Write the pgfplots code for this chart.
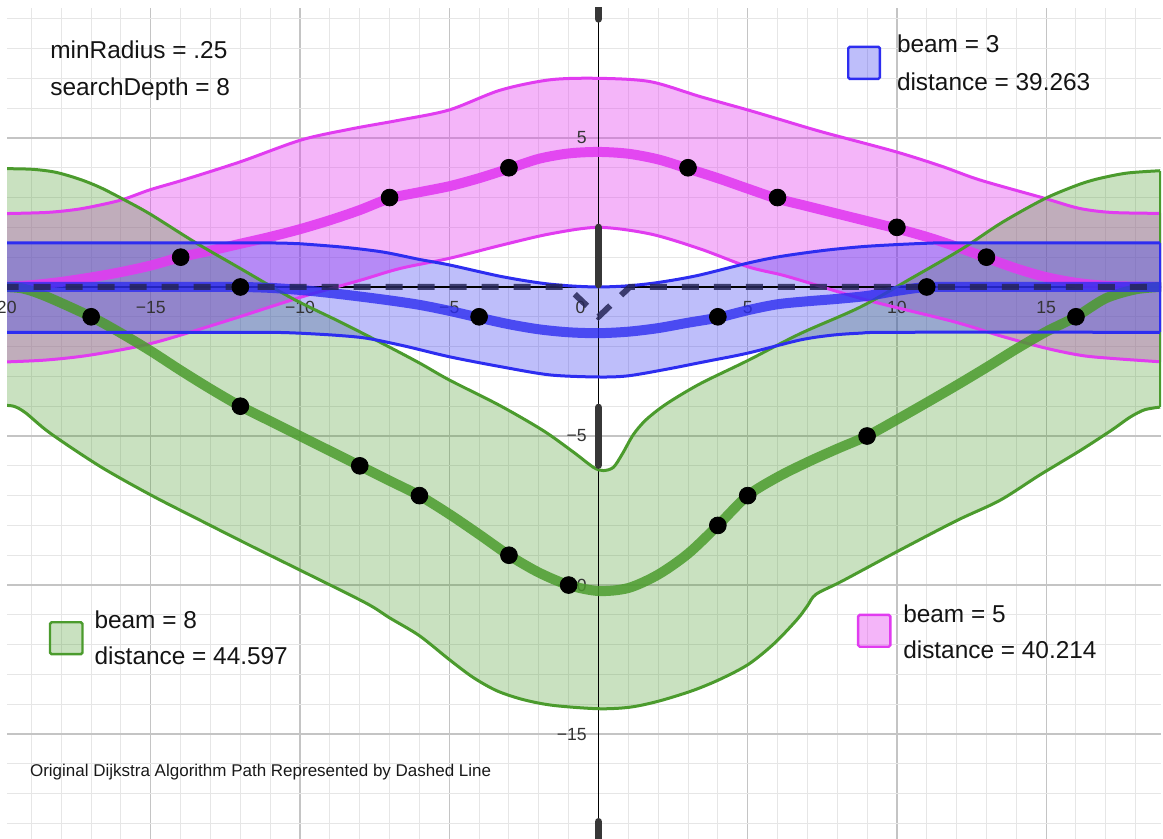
\documentclass[border=0pt]{standalone}
\usepackage{fontspec}
\setmainfont{Liberation Sans}
\usepackage{pgfplots}
\pgfplotsset{compat=1.18}
\usepackage{pgfplotstable}
\usepgfplotslibrary{fillbetween}

\definecolor{dblue}{RGB}{45,45,240}
\definecolor{dpink}{RGB}{225,60,240}
\definecolor{dgreen}{RGB}{75,155,45}
\definecolor{gridmajor}{RGB}{196,196,196}
\definecolor{gridminor}{RGB}{230,230,230}
\definecolor{dashc}{RGB}{38,38,88}
\definecolor{barc}{RGB}{55,55,55}

% ---------- pink (beam = 5) ----------
\pgfplotstableread{
x y
-20 2.46
-18.5 2.5
-17.5 2.6
-16.7 2.75
-15.92 2.94
-15.03 3.26
-13.91 3.59
-12 4.2
-9.97 4.93
-8.3 5.3
-6.65 5.6
-5 5.94
-3.3 6.6
-1.63 6.95
0 7.0
1.73 6.89
3.4 6.39
5 5.94
6.08 5.62
7.5 5.2
9.95 4.54
11.5 4.05
12.78 3.59
14.93 2.98
16.1 2.64
17.2 2.5
18.82 2.47
}\pinkU
\pgfplotstableread{
x y
-20 -2.52
-18.5 -2.45
-17 -2.28
-14.97 -1.89
-12.5 -1.15
-10 -0.35
-8 0.22
-6.65 0.62
-5 0.96
-3.3 1.39
-1.63 1.78
0 2.0
1.73 1.78
3.4 1.28
5 0.68
6.08 0.42
6.75 0.23
8.99 -0.44
11.89 -1.16
13.5 -1.65
15.02 -2.06
16.2 -2.3
17.25 -2.4
18.82 -2.51
}\pinkL
\pgfplotstableread{
x y
-20 0
-19 0.06
-18 0.17
-17 0.32
-16 0.5
-15 0.72
-14 1.0
-13 1.22
-12 1.45
-11 1.68
-10 1.94
-9 2.24
-8 2.58
-7 2.97
-6 3.18
-5 3.38
-4 3.65
-3 3.97
-2 4.3
-1 4.48
0 4.53
1 4.47
2 4.28
3 3.97
4 3.65
5 3.3
6 2.96
7 2.71
8 2.46
9 2.21
10 1.96
11 1.68
12 1.35
13 0.98
14 0.62
15 0.33
16 0.14
17 0.04
18 0.01
18.82 0
}\pinkC

% ---------- green (beam = 8) ----------
\pgfplotstableread{
x y
-20 3.97
-19 3.95
-18.2 3.85
-17.4 3.62
-16.7 3.34
-15.92 2.94
-15.03 2.45
-13.52 1.5
-12 0.62
-10.23 -0.4
-8.6 -1.2
-7.21 -1.91
-6 -2.55
-5 -3.12
-3.3 -3.98
-1.85 -4.82
-0.84 -5.54
-0.17 -6.05
0.16 -6.16
0.5 -6.05
0.8 -5.6
1.17 -4.95
1.6 -4.45
2.28 -3.92
3.4 -3.25
5 -2.47
6.75 -1.57
8.76 -0.68
10.5 0.3
12.17 1.27
13.5 2.15
14.93 2.95
16 3.4
16.7 3.62
17.7 3.82
18.82 3.9
}\greenU
\pgfplotstableread{
x y
-20 -3.97
-19.6 -4.0
-19.2 -4.22
-18.38 -4.9
-16.7 -6.02
-15 -6.98
-13.36 -7.82
-11.7 -8.66
-10 -9.5
-7.8 -10.6
-7 -11.1
-6 -11.7
-5 -12.5
-4.2 -13.1
-3.4 -13.55
-2.5 -13.85
-1.5 -14.04
0 -14.15
1.04 -14.1
2 -13.9
3.16 -13.54
4.1 -13.15
5.04 -12.65
5.9 -11.95
6.66 -11.15
7.0 -10.7
7.29 -10.31
8.16 -9.87
10.04 -8.86
12 -7.84
13.45 -7.16
14.8 -6.3
16.14 -5.49
17.2 -4.8
17.81 -4.37
18.3 -4.12
18.82 -4.03
}\greenL
\pgfplotstableread{
x y
-20 0
-19.3 -0.05
-18.5 -0.32
-17 -1
-16 -1.55
-15 -2.15
-14 -2.8
-13 -3.42
-12 -4
-11 -4.5
-10 -5
-9 -5.5
-8 -6
-7 -6.5
-6 -7
-5 -7.62
-4 -8.3
-3 -9
-2 -9.58
-1 -10
0 -10.2
1 -10.1
2 -9.65
3 -8.95
4 -8
5 -7
6 -6.38
7 -5.88
8 -5.43
9 -5
10 -4.45
11 -3.88
12 -3.3
13 -2.7
14 -2.08
15 -1.5
16 -1
17 -0.38
18 -0.08
18.82 0
}\greenC

% ---------- blue (beam = 3) ----------
\pgfplotstableread{
x y
-20 1.48
-12 1.48
-10.5 1.47
-10 1.45
-8.5 1.33
-7.21 1.17
-5.98 0.92
-5 0.74
-3.3 0.36
-2 0.14
-1 0.04
0 0
1 0.04
2 0.15
3.3 0.38
5 0.8
6.08 1.02
7.5 1.22
8.8 1.35
9.95 1.42
11.1 1.47
12 1.48
18.82 1.48
}\blueU
\pgfplotstableread{
x y
-20 -1.52
-12 -1.52
-10.5 -1.53
-10 -1.55
-8.8 -1.62
-7.77 -1.72
-6.5 -1.98
-5 -2.34
-3.3 -2.67
-1.63 -2.95
0 -3.02
1 -2.98
2.28 -2.76
3.6 -2.5
5 -2.22
6.75 -1.78
7.8 -1.62
8.76 -1.55
10 -1.52
18.82 -1.52
}\blueL
\pgfplotstableread{
x y
-20 0
-13 0
-12 0
-11 -0.03
-10 -0.1
-9 -0.2
-8 -0.32
-7 -0.45
-6 -0.6
-5 -0.8
-4 -1.03
-3 -1.25
-2 -1.42
-1 -1.52
0 -1.55
1 -1.5
2 -1.38
3 -1.2
4 -1.03
5 -0.78
6 -0.58
7 -0.48
8 -0.4
9 -0.3
10 -0.13
11 0
12 0
18.82 0
}\blueC

\tikzset{
  lg/.style={font=\fontsize{12.2}{14}\selectfont, anchor=base west, inner sep=0pt, text=black!92},
  tl/.style={font=\fontsize{8.8}{10}\selectfont, inner sep=0pt, text=black!80},
}

\begin{document}
\begin{tikzpicture}
\begin{axis}[
  at={(0,0)}, anchor=south west,
  scale only axis, width=577pt, height=415.5pt,
  xmin=-19.82, xmax=18.85, ymin=-18.52, ymax=9.36,
  xtick={-20,-15,...,20}, ytick={-20,-15,...,10},
  minor xtick={-20,-19,...,20}, minor ytick={-19,-18,...,10},
  grid=both,
  major grid style={line width=0.6pt, draw=gridmajor},
  minor grid style={line width=0.5pt, draw=gridminor},
  xticklabels={}, yticklabels={},
  major tick length=0pt, minor tick length=0pt,
  axis line style={draw=none},
]
% axes
\addplot[black, line width=0.7pt] coordinates {(-25,0) (25,0)};
\addplot[black, line width=0.7pt] coordinates {(0,-25) (0,15)};
% tick labels
\coordinate (m20) at (axis cs:-20,-0.88);
\node[tl, anchor=base] at (axis cs:-15,-0.88) {−15};
\node[tl, anchor=base] at (axis cs:-10,-0.88) {−10};
\node[tl, anchor=base] at (axis cs:-5,-0.88) {−5};
\node[tl, anchor=base] at (axis cs:-0.6,-0.88) {0};
\node[tl, anchor=base] at (axis cs:5,-0.88) {5};
\node[tl, anchor=base] at (axis cs:10,-0.88) {10};
\node[tl, anchor=base] at (axis cs:15,-0.88) {15};
\node[tl, anchor=east] at (axis cs:-0.38,5) {5};
\node[tl, anchor=east] at (axis cs:-0.38,-5) {−5};
\node[tl, anchor=east] at (axis cs:-0.38,-10) {−10};
\node[tl, anchor=east] at (axis cs:-0.38,-15) {−15};

% ---- pink band ----
\addplot[draw=none, name path=pu, smooth] table {\pinkU};
\addplot[draw=none, name path=pl, smooth] table {\pinkL};
\addplot[fill=dpink, fill opacity=0.38, draw=none] fill between[of=pu and pl];
\addplot[dpink, line width=1.5pt, smooth] table {\pinkU};
\addplot[dpink, line width=1.5pt, smooth] table {\pinkL};
\addplot[dpink, line width=1.5pt] coordinates {(18.82,2.47) (18.82,-2.51)};
\addplot[dpink, line width=5pt, opacity=0.9, smooth, line cap=round] table {\pinkC};

% ---- green band ----
\addplot[draw=none, name path=gu, smooth] table {\greenU};
\addplot[draw=none, name path=gl, smooth] table {\greenL};
\addplot[fill=dgreen, fill opacity=0.3, draw=none] fill between[of=gu and gl];
\addplot[dgreen, line width=1.5pt, smooth] table {\greenU};
\addplot[dgreen, line width=1.5pt, smooth] table {\greenL};
\addplot[dgreen, line width=1.5pt] coordinates {(18.82,3.9) (18.82,-4.03)};
\addplot[dgreen, line width=5pt, opacity=0.85, smooth, line cap=round] table {\greenC};

% ---- blue band ----
\addplot[draw=none, name path=bu, smooth] table {\blueU};
\addplot[draw=none, name path=bl, smooth] table {\blueL};
\addplot[fill=dblue, fill opacity=0.31, draw=none] fill between[of=bu and bl];
\addplot[dblue, line width=1.5pt, smooth] table {\blueU};
\addplot[dblue, line width=1.5pt, smooth] table {\blueL};
\addplot[dblue, line width=1.5pt] coordinates {(18.82,1.48) (18.82,-1.52)};
\addplot[dblue, line width=5pt, opacity=0.8, smooth, line cap=round] table {\blueC};

% ---- dijkstra dashed path ----
\addplot[dashc, line width=3pt, opacity=0.85, dash pattern=on 8.5pt off 7.5pt] coordinates {(-20,0) (-1.05,0) (0,-1) (1.05,0) (20,0)};

% ---- obstacles on the y-axis ----
\addplot[barc, line width=3.7pt, line cap=round] coordinates {(0,8.99) (0,12)};
\addplot[barc, line width=3.7pt, line cap=round] coordinates {(0,0.08) (0,2.0)};
\addplot[barc, line width=3.7pt, line cap=round] coordinates {(0,-4.04) (0,-5.98)};
\addplot[barc, line width=3.7pt, line cap=round] coordinates {(0,-17.94) (0,-21)};

% ---- search nodes ----
\addplot[only marks, mark=*, mark size=4.2pt, black] coordinates {
(-17,-1) (-12,-4) (-8,-6) (-6,-7) (-3,-9) (-1,-10) (4,-8) (5,-7) (9,-5) (16,-1)
(-12,0) (-4,-1) (4,-1) (11,0)
(-14,1) (-7,3) (-3,4) (3,4) (6,3) (10,2) (13,1)
};

% ---- texts and legend keys ----
\node[lg] at (axis cs:-18.38,7.67) {minRadius = .25};
\node[lg] at (axis cs:-18.38,6.44) {searchDepth = 8};

\draw[dblue, line width=1.2pt, fill=dblue, fill opacity=0.31, rounded corners=0.8pt] (axis cs:8.37,6.98) rectangle (axis cs:9.43,8.06);
\node[lg] at (axis cs:9.99,7.86) {beam = 3};
\node[lg] at (axis cs:9.99,6.59) {distance = 39.263};

\draw[dgreen, line width=1.2pt, fill=dgreen, fill opacity=0.3, rounded corners=0.8pt] (axis cs:-18.38,-12.32) rectangle (axis cs:-17.29,-11.25);
\node[lg] at (axis cs:-16.9,-11.45) {beam = 8};
\node[lg] at (axis cs:-16.9,-12.68) {distance = 44.597};

\draw[dpink, line width=1.2pt, fill=dpink, fill opacity=0.38, rounded corners=0.8pt] (axis cs:8.7,-12.07) rectangle (axis cs:9.78,-11.0);
\node[lg] at (axis cs:10.2,-11.26) {beam = 5};
\node[lg] at (axis cs:10.2,-12.48) {distance = 40.214};

\node[anchor=base west, inner sep=0pt, font=\fontsize{8.5}{10}\selectfont, text=black!90] at (axis cs:-19.06,-16.44) {Original Dijkstra Algorithm Path Represented by Dashed Line};
\end{axis}
\node[tl, anchor=base] at (m20) {−20};
\pgfresetboundingbox
\path[use as bounding box] (-3.5pt,0pt) rectangle (578pt,419.5pt);
\end{tikzpicture}
\end{document}
